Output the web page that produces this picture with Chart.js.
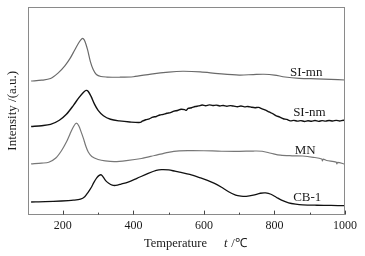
<!DOCTYPE html>
<html lang="en">

<head>
    <meta charset="UTF-8">
    <title>TPD</title>
    <script src="https://cdn.jsdelivr.net/npm/chart.js"></script>
    <style>
        body { margin: 0; background: #fff; }
        canvas { display: block; }
    </style>
</head>

<body>
    <canvas id="grafico" width="365" height="256"></canvas>
</body>

</html>
<script>

    // Dados (temperatura em °C, intensidade em u.a.)
    const tempSImn = [110, 140, 165, 187, 205, 220, 234, 246, 254, 258, 263, 270, 278, 286, 295, 308, 325, 360, 400, 450, 500, 540, 590, 640, 700, 740, 770, 800, 830, 870, 920, 960, 1000];
    const intSImn = [134.5, 135.3, 137, 142.7, 149.5, 157, 166, 173.5, 177, 177, 174, 166, 154, 146, 141, 139, 138.5, 138.3, 138.8, 141.5, 143.5, 144.3, 143.7, 142, 140.5, 141, 141.3, 140.5, 138.5, 137.2, 136.7, 136.2, 135.5];

    const tempSInm = [110, 140, 165, 190, 210, 230, 245, 258, 266, 272, 280, 290, 300, 315, 335, 360, 390, 420,
        425, 435, 445, 455, 465, 475, 485, 495, 505, 515, 525, 535, 545, 550, 555, 565, 575, 585, 595, 605, 615, 625, 635, 645, 655, 665, 675, 685, 695, 705, 715, 725, 735, 745, 755, 765, 775, 785, 795, 805, 815, 825, 835, 845, 855, 865, 875, 885, 895, 905, 915, 925, 935, 945, 955, 965, 975, 985, 995, 1000];
    const intSInm = [88.7, 89.5, 90.8, 95, 101, 110, 117.5, 123, 125, 124, 119, 111, 105, 99.5, 96, 94.3, 93.2, 92.8,
        94, 95.5, 96.4, 98.2, 98.8, 100.3, 100.9, 102, 102.6, 104.2, 104.8, 106.1, 105.7, 104.9, 106.9, 107.6, 108.8, 109.4, 110.3, 109.6, 110.5, 109.8, 110.2, 109.4, 109.9, 109.1, 109.7, 109.2, 108.6, 109.3, 108.5, 108.9, 108.1, 107.6, 107.9, 106.4, 105.1, 103.3, 101.6, 99.4, 98.2, 96.5, 95.8, 94.4, 94.9, 94.1, 94.6, 93.8, 94.5, 94, 94.7, 93.9, 94.6, 94.1, 94.8, 94.2, 94.9, 94.3, 95, 94.6];

    const tempMN = [110, 140, 160, 180, 196, 210, 220, 230, 238, 245, 252, 258, 265, 272, 282, 300, 320, 347, 380, 423, 460, 499, 530, 560, 600, 650, 700, 740, 765, 790, 817, 850, 880, 910, 934, 936, 938, 948, 975, 977, 979, 1000];
    const intMN = [51, 51.8, 52.7, 57, 64.3, 73, 81, 88.5, 92, 89.5, 83, 77, 69, 63, 58.5, 55.5, 54, 53.3, 54.3, 56.5, 59.5, 62.7, 64.2, 64.4, 64.3, 63.8, 63.7, 64, 63.8, 61.8, 59.8, 59.2, 59, 57.7, 56, 54, 55.8, 54.5, 52.8, 51, 52.6, 50.8];

    const tempCB1 = [110, 150, 196, 230, 250, 262, 272, 280, 288, 296, 303, 309, 315, 322, 330, 340, 350, 365, 385, 410, 442, 465, 480, 500, 518, 535, 560, 590, 610, 630, 650, 670, 690, 705, 720, 740, 760, 775, 790, 805, 820, 840, 860, 880, 920, 960, 1000];
    const intCB1 = [12.7, 13, 13.7, 14.5, 15.5, 18, 22.7, 27, 32.5, 37, 39.5, 40, 37.5, 34, 31.5, 29.6, 29.4, 30.7, 32.7, 36.5, 41.5, 44.5, 45.3, 45, 43.7, 42.5, 40.5, 37, 34.5, 31.5, 27.5, 23, 19.5, 18.5, 18.3, 19.5, 21.5, 21.8, 20.5, 17.5, 14.5, 11.8, 10.5, 9.8, 9.4, 9.2, 9];

    const nomes = ['SI-mn', 'SI-nm', 'MN', 'CB-1'];
    // onde fica o nome de cada curva (temperatura, intensidade)
    const nomesTemp = [890, 899, 887, 893];
    const nomesInt = [143.3, 103, 64, 17];

    const ticksMaiores = [200, 400, 600, 800, 1000];
    const ticksMenores = [300, 500, 700, 900];

    function pontos(t, v) {
        let lista = [];
        for (let i = 0; i < t.length; i++) {
            lista.push({ x: t[i], y: v[i] });
        }
        return lista;
    }

    // desenha a moldura, os ticks para dentro, os nomes e o titulo do eixo x
    const moldura = {
        id: 'moldura',
        afterDraw(chart) {
            const ctx = chart.ctx;
            const a = chart.chartArea;
            const sx = chart.scales.x;
            const sy = chart.scales.y;
            ctx.save();
            ctx.strokeStyle = '#8a8a8a';
            ctx.lineWidth = 1;
            ctx.strokeRect(Math.round(a.left) + 0.5, Math.round(a.top) + 0.5,
                Math.round(a.right - a.left) - 1, Math.round(a.bottom - a.top) - 1);

            ctx.strokeStyle = '#444';
            ctx.beginPath();
            ticksMaiores.forEach(function (t) {
                const px = Math.round(sx.getPixelForValue(t)) + 0.5;
                ctx.moveTo(px, a.bottom);
                ctx.lineTo(px, a.bottom - 4);
            });
            ticksMenores.forEach(function (t) {
                const px = Math.round(sx.getPixelForValue(t)) + 0.5;
                ctx.moveTo(px, a.bottom);
                ctx.lineTo(px, a.bottom - 2);
            });
            ctx.stroke();

            ctx.fillStyle = '#1a1a1a';
            ctx.font = '13px "Liberation Serif"';
            ctx.textAlign = 'center';
            ctx.textBaseline = 'middle';
            for (let i = 0; i < nomes.length; i++) {
                ctx.fillText(nomes[i], sx.getPixelForValue(nomesTemp[i]), sy.getPixelForValue(nomesInt[i]));
            }

            ctx.textAlign = 'left';
            ctx.font = '12.5px "Liberation Serif"';
            ctx.fillText('Temperature', 144, 244);
            ctx.font = 'italic 12.5px "Liberation Serif"';
            ctx.fillText('t', 224, 244);
            ctx.font = '12.5px "Liberation Serif"';
            ctx.fillText(' /\u2103', 228, 244);
            ctx.restore();
        }
    };

    function linha(label, t, v, cor, largura) {
        return {
            label: label,
            data: pontos(t, v),
            borderColor: cor,
            borderWidth: largura,
            pointRadius: 0,
            fill: false,
            tension: 0.3
        };
    }

    const dados = {
        datasets: [
            linha('SI-mn', tempSImn, intSImn, '#6a6a6a', 1.2),
            linha('SI-nm', tempSInm, intSInm, '#111111', 1.4),
            linha('MN', tempMN, intMN, '#777777', 1.2),
            linha('CB-1', tempCB1, intCB1, '#111111', 1.3)
        ]
    };

    const config = {
        type: 'line',
        data: dados,
        options: {
            responsive: false,
            animation: false,
            devicePixelRatio: 1,
            layout: { padding: { top: 7, right: 20, bottom: 19, left: 0 } },
            plugins: { legend: { display: false }, tooltip: { enabled: false } },
            scales: {
                x: {
                    type: 'linear',
                    min: 100,
                    max: 1000,
                    afterBuildTicks: function (axis) {
                        axis.ticks = ticksMaiores.map(function (v) { return { value: v }; });
                    },
                    ticks: {
                        color: '#1a1a1a',
                        font: { family: 'Liberation Serif', size: 12 },
                        padding: 4,
                        maxRotation: 0,
                        callback: function (v) { return String(v); }
                    },
                    grid: { display: false, drawTicks: false, tickLength: 0 },
                    border: { display: false }
                },
                y: {
                    min: 0,
                    max: 209,
                    ticks: { display: false },
                    grid: { display: false, drawTicks: false, tickLength: 0 },
                    border: { display: false },
                    title: {
                        display: true,
                        text: 'Intensity /(a.u.)',
                        color: '#1a1a1a',
                        font: { family: 'Liberation Serif', size: 13 },
                        padding: { top: 5, bottom: 7 }
                    }
                }
            }
        },
        plugins: [moldura]
    };

    let grafico = new Chart(document.getElementById('grafico'), config);

</script>
